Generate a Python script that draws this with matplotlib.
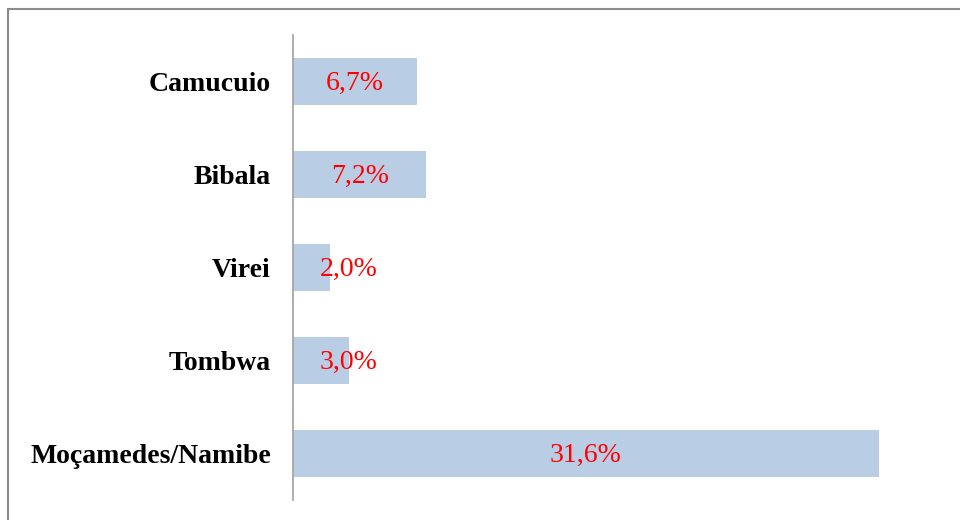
import matplotlib.pyplot as plt
from matplotlib.patches import Rectangle

categories = ["Camucuio", "Bibala", "Virei", "Tombwa", "Moçamedes/Namibe"]
values = [6.7, 7.2, 2.0, 3.0, 31.6]
labels = ["6,7%", "7,2%", "2,0%", "3,0%", "31,6%"]

plt.rcParams['font.family'] = ['Liberation Serif', 'DejaVu Serif']

fig = plt.figure(figsize=(9.6, 5.2), dpi=100)
ax = fig.add_axes([0.3052, 0.0385, 0.676, 0.8942])

pos = list(range(len(categories)))
ax.barh(pos, values, height=0.5, color='#B9CDE5')
ax.set_ylim(len(categories) - 0.5, -0.5)
ax.set_xlim(0, 35)

# value labels, kept clear of the axis line for tiny bars
for p, v, t in zip(pos, values, labels):
    ax.text(max(v / 2, 3.0), p + 0.02, t, color='#FF0000', fontsize=20,
            ha='center', va='center')

ax.set_yticks(pos)
ax.set_yticklabels(categories, fontsize=20, fontweight='bold')
ax.tick_params(axis='y', length=0, pad=16)
ax.set_xticks([])
for s in ['top', 'right', 'bottom']:
    ax.spines[s].set_visible(False)
ax.spines['left'].set_color('#a0a0a0')
ax.spines['left'].set_linewidth(1.2)

# outer frame of the chart area (cut off at the right and bottom)
fig.patches.append(Rectangle((8 / 960, -0.1), 1.2, 1 - 8.5 / 520 + 0.1,
                             transform=fig.transFigure, fill=False,
                             edgecolor='#8c8c8c', linewidth=1.5))

fig.savefig('out.png', dpi=100, facecolor='white')
